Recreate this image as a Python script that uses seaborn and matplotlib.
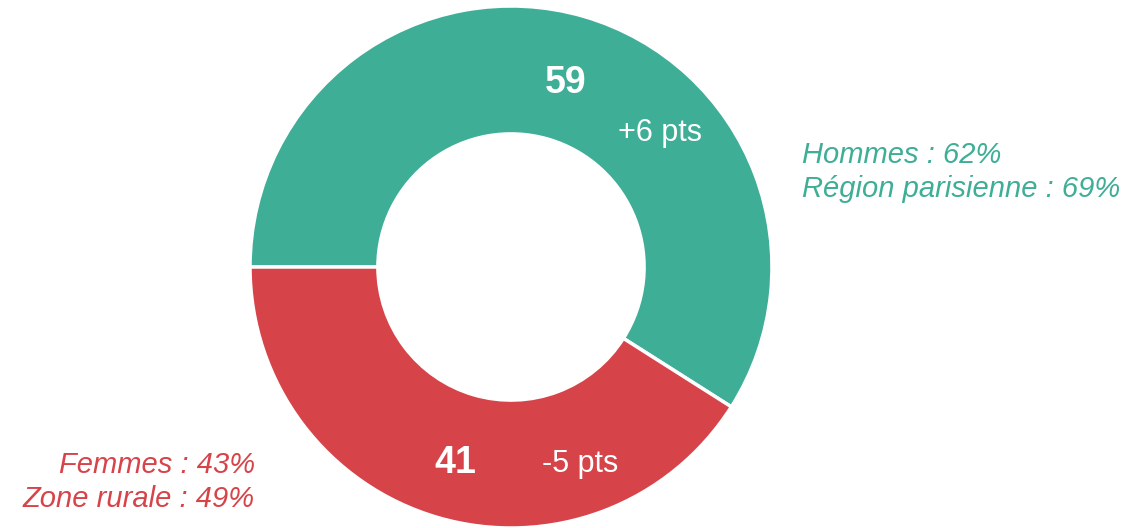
import matplotlib
matplotlib.use("Agg")
import matplotlib.pyplot as plt
import seaborn as sns

# Data
categories = ["Oui", "Non"]
values = [59, 41]
changes = ["+6 pts", "-5 pts"]
colors = ["#3eae96", "#d6444a"]
green_notes = ["Hommes : 62%", "Région parisienne : 69%"]
red_notes = ["Femmes : 43%", "Zone rurale : 49%"]

sns.set_theme(style="white")
plt.rcParams["font.family"] = ["Liberation Sans", "DejaVu Sans"]

fig = plt.figure(figsize=(11.35, 5.28), dpi=100)
ax = fig.add_axes([0, 0, 1, 1])

wedges, _ = ax.pie(
    values,
    colors=colors,
    startangle=180,
    counterclock=False,
    radius=1.0,
    wedgeprops=dict(width=0.49, edgecolor="white", linewidth=2.5),
)

ax.set_xlim(-1.958, 2.391)
ax.set_ylim(-1.0, 1.023)
ax.set_aspect("auto")
ax.axis("off")

# Value labels inside the ring
ax.text(0.211, 0.705, str(values[0]), color="white", fontsize=27,
        fontweight="bold", ha="center", va="center")
ax.text(0.571, 0.514, changes[0], color="white", fontsize=22,
        ha="center", va="center")
ax.text(-0.215, -0.750, str(values[1]), color="white", fontsize=27,
        fontweight="bold", ha="center", va="center")
ax.text(0.264, -0.756, changes[1], color="white", fontsize=22,
        ha="center", va="center")

# Side notes
for i, note in enumerate(green_notes):
    ax.text(1.115, 0.430 - i * 0.130, note, color=colors[0], fontsize=21,
            style="italic", ha="left", va="center")
for i, note in enumerate(red_notes):
    ax.text(-0.981, -0.758 - i * 0.130, note, color=colors[1], fontsize=21,
            style="italic", ha="right", va="center")

fig.savefig("out.png", dpi=100)
